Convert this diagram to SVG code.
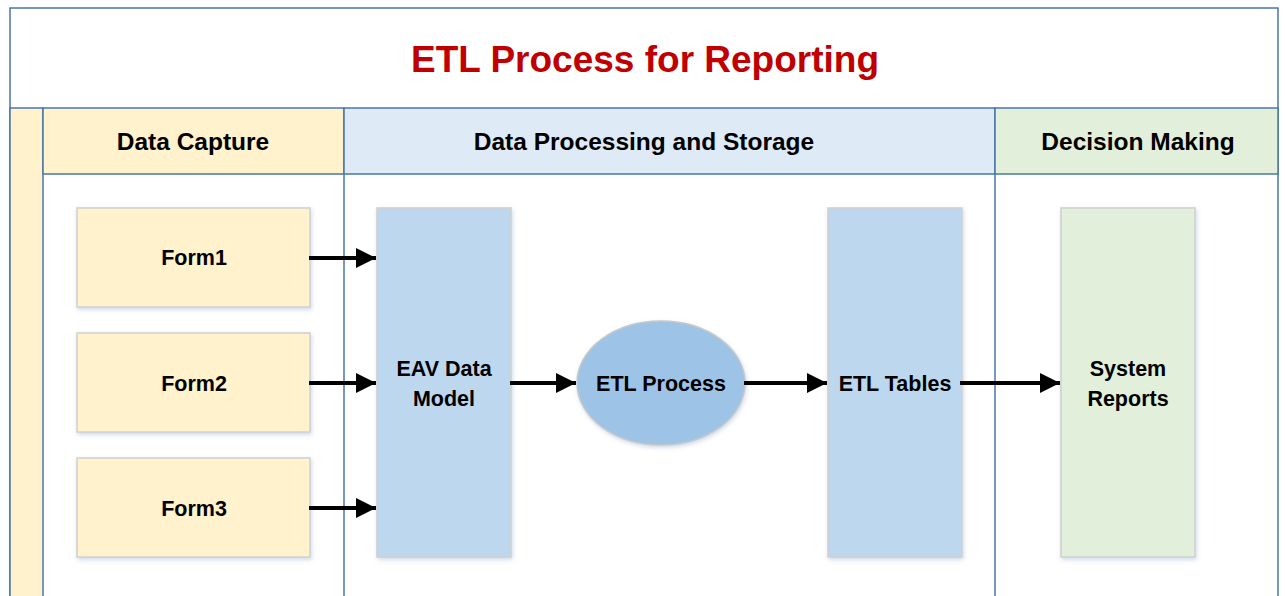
<svg xmlns="http://www.w3.org/2000/svg" width="1285" height="596" viewBox="0 0 1285 596">
<style>
.frame{fill:none;stroke:#4A77A8;stroke-width:1.5}
.lane{stroke:#4A77A8;stroke-width:1.5}
.hdr{font-family:"Liberation Sans",Arial,sans-serif;font-weight:bold;font-size:24.5px;fill:#000;text-anchor:middle}
.lbl{font-family:"Liberation Sans",Arial,sans-serif;font-weight:bold;font-size:21.5px;fill:#000;text-anchor:middle}
.form{fill:#FFF2CC;stroke:#D0D0D0;stroke-width:1.5}
.store{fill:#BDD7EE;stroke:#D0D0D0;stroke-width:1.5}
.rep{fill:#E2EFDA;stroke:#D0D0D0;stroke-width:1.5}
.conn{stroke:#000;stroke-width:4;fill:none;marker-end:url(#arr)}
</style>
<defs>
<marker id="arr" markerWidth="5" markerHeight="5" refX="5" refY="2.5" orient="auto" markerUnits="strokeWidth">
<path d="M0,0 L5,2.5 L0,5 Z" fill="#000"/>
</marker>
<filter id="sh" x="-10%" y="-10%" width="130%" height="130%">
<feDropShadow dx="1" dy="2" stdDeviation="2" flood-color="#9DB6D6" flood-opacity="0.5"/>
</filter>
</defs>
<rect width="1285" height="596" fill="#fff"/>
<g id="frame">
<rect x="10" y="8" width="1268" height="600" fill="#fff" class="frame"/>
<rect x="10" y="108" width="33" height="500" fill="#FFF2CC" class="lane"/>
<rect x="43" y="108" width="301" height="66" fill="#FFF2CC" class="lane"/>
<rect x="344" y="108" width="651" height="66" fill="#DEEBF7" class="lane"/>
<rect x="995" y="108" width="283" height="66" fill="#E2EFDA" class="lane"/>
<line x1="344" y1="174" x2="344" y2="600" class="lane"/>
<line x1="995" y1="174" x2="995" y2="600" class="lane"/>
<text x="645" y="72" font-family="'Liberation Sans',Arial,sans-serif" font-weight="bold" font-size="37" fill="#C00000" text-anchor="middle">ETL Process for Reporting</text>
<text x="193" y="150" class="hdr">Data Capture</text>
<text x="644" y="150" class="hdr">Data Processing and Storage</text>
<text x="1138" y="150" class="hdr">Decision Making</text>
</g>
<g id="form1"><rect x="77" y="208" width="233" height="99" class="form" filter="url(#sh)"/><text x="194" y="265" class="lbl">Form1</text></g>
<g id="form2"><rect x="77" y="333" width="233" height="99" class="form" filter="url(#sh)"/><text x="194" y="391" class="lbl">Form2</text></g>
<g id="form3"><rect x="77" y="458" width="233" height="99" class="form" filter="url(#sh)"/><text x="194" y="516" class="lbl">Form3</text></g>
<g id="eav"><rect x="377" y="208" width="134" height="349" class="store" filter="url(#sh)"/><text x="444" y="376" class="lbl">EAV Data</text><text x="444" y="406" class="lbl">Model</text></g>
<g id="etlprocess"><ellipse cx="661" cy="383" rx="84" ry="62" fill="#9DC3E6" stroke="#C8C8C8" stroke-width="1.5" filter="url(#sh)"/><text x="661" y="391" class="lbl">ETL Process</text></g>
<g id="etltables"><rect x="828" y="208" width="134" height="349" class="store" filter="url(#sh)"/><text x="895" y="391" class="lbl">ETL Tables</text></g>
<g id="reports"><rect x="1061" y="208" width="134" height="349" class="rep" filter="url(#sh)"/><text x="1128" y="376" class="lbl">System</text><text x="1128" y="406" class="lbl">Reports</text></g>
<g id="connectors">
<line x1="309" y1="258" x2="376" y2="258" class="conn"/>
<line x1="309" y1="383" x2="376" y2="383" class="conn"/>
<line x1="309" y1="508" x2="376" y2="508" class="conn"/>
<line x1="510" y1="383" x2="576" y2="383" class="conn"/>
<line x1="744" y1="383" x2="827" y2="383" class="conn"/>
<line x1="960" y1="383" x2="1060" y2="383" class="conn"/>
</g>
</svg>
